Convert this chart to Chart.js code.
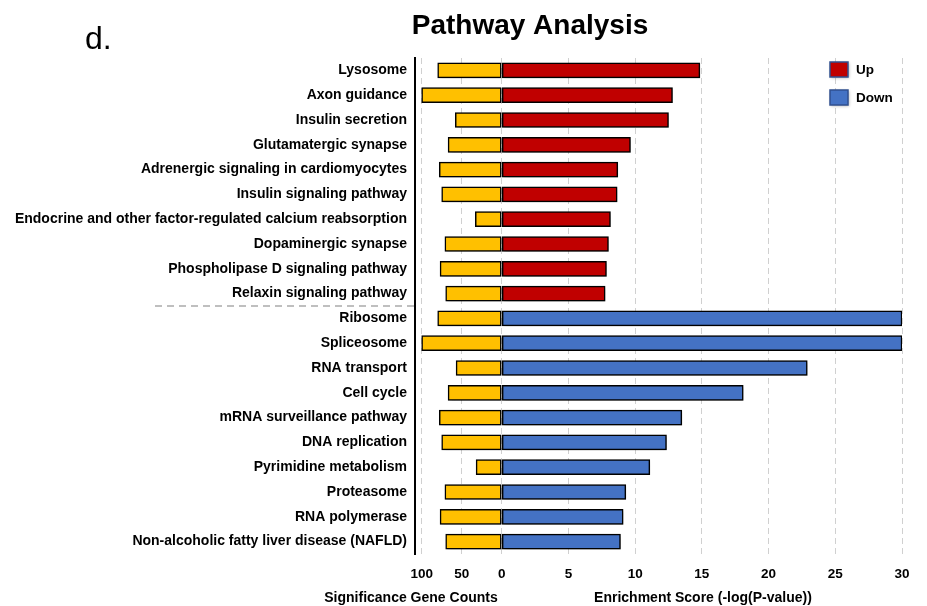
<!DOCTYPE html>
<html>
<head>
<meta charset="utf-8">
<script src="https://cdn.jsdelivr.net/npm/chart.js@4.4.1/dist/chart.umd.min.js"></script>
<style>
  body { margin: 0; background: #fff; }
</style>
</head>
<body>
<canvas id="myChart" width="927" height="606"></canvas>
<script>

var categories = [
    'Lysosome', 'Axon guidance', 'Insulin secretion', 'Glutamatergic synapse',
    'Adrenergic signaling in cardiomyocytes', 'Insulin signaling pathway',
    'Endocrine and other factor-regulated calcium reabsorption', 'Dopaminergic synapse',
    'Phospholipase D signaling pathway', 'Relaxin signaling pathway',
    'Ribosome', 'Spliceosome', 'RNA transport', 'Cell cycle', 'mRNA surveillance pathway',
    'DNA replication', 'Pyrimidine metabolism', 'Proteasome', 'RNA polymerase',
    'Non-alcoholic fatty liver disease (NAFLD)'
];

// significance gene counts (left side)
var geneCounts = [80, 100, 58, 67, 78, 75, 33, 71, 77, 70,
                  80, 100, 57, 67, 78, 75, 32, 71, 77, 70];

// enrichment scores, -log(P-value)
var upScores = [14.85, 12.8, 12.5, 9.65, 8.7, 8.65, 8.15, 8.0, 7.85, 7.75];
var downScores = [30, 30, 22.9, 18.1, 13.5, 12.35, 11.1, 9.3, 9.1, 8.9];

var countTicks = [100, 50, 0];
var scoreTicks = [5, 10, 15, 20, 25, 30];

// counts share the x axis with scores: 100 genes ~ 6 score units
var COUNT_SCALE = 0.06;

var FONT = "'Liberation Sans', Arial, sans-serif";
Chart.defaults.font.family = FONT;

var empty = categories.slice(upScores.length).map(function () { return null; });
var upData = upScores.concat(empty);
var downData = categories.slice(0, upScores.length).map(function () { return null; }).concat(downScores);
var countData = geneCounts.map(function (c) { return -c * COUNT_SCALE; });

var tickValues = countTicks.map(function (c) { return -c * COUNT_SCALE; }).concat(scoreTicks);

var shadowPlugin = {
    id: 'barShadow',
    beforeDatasetsDraw: function (chart) {
        var ctx = chart.ctx;
        ctx.save();
        ctx.shadowColor = 'rgba(0,0,0,0.3)';
        ctx.shadowBlur = 4;
        ctx.shadowOffsetX = 2;
        ctx.shadowOffsetY = 2;
    },
    afterDatasetsDraw: function (chart) {
        chart.ctx.restore();
    }
};

var extrasPlugin = {
    id: 'extras',
    afterDraw: function (chart) {
        var ctx = chart.ctx;
        var area = chart.chartArea;
        var y = chart.scales.y;
        ctx.save();

        // title and panel letter
        ctx.fillStyle = '#000';
        ctx.textBaseline = 'alphabetic';
        ctx.textAlign = 'center';
        ctx.font = 'bold 28px ' + FONT;
        ctx.fillText('Pathway Analysis', 530, 34);
        ctx.textAlign = 'left';
        ctx.font = '32px ' + FONT;
        ctx.fillText('d.', 85, 49);

        // separator between up and down groups
        var sepY = (y.getPixelForValue(upScores.length - 1) + y.getPixelForValue(upScores.length)) / 2;
        ctx.strokeStyle = '#bfbfbf';
        ctx.lineWidth = 2;
        ctx.setLineDash([7, 5]);
        ctx.beginPath();
        ctx.moveTo(155, sepY);
        ctx.lineTo(area.left, sepY);
        ctx.stroke();
        ctx.setLineDash([]);

        // legend
        var items = [['Up', '#C00000', 69], ['Down', '#4472C4', 97]];
        items.forEach(function (it) {
            ctx.save();
            ctx.shadowColor = 'rgba(0,0,0,0.3)';
            ctx.shadowBlur = 3;
            ctx.shadowOffsetX = 1;
            ctx.shadowOffsetY = 1;
            ctx.fillStyle = it[1];
            ctx.fillRect(830, it[2] - 7, 18, 15);
            ctx.restore();
            ctx.strokeStyle = '#2f4f8f';
            ctx.lineWidth = 1.5;
            ctx.strokeRect(830, it[2] - 7, 18, 15);
            ctx.fillStyle = '#000';
            ctx.font = 'bold 13.5px ' + FONT;
            ctx.textAlign = 'left';
            ctx.textBaseline = 'middle';
            ctx.fillText(it[0], 856, it[2] + 1);
        });

        // axis titles
        ctx.font = 'bold 14px ' + FONT;
        ctx.textAlign = 'center';
        ctx.textBaseline = 'middle';
        ctx.fillText('Significance Gene Counts', 411, 598);
        ctx.fillText('Enrichment Score (-log(P-value))', 703, 598);
        ctx.restore();
    }
};

var chartId = document.getElementById('myChart').getContext('2d');

var myChart = new Chart(chartId, {
    type: 'bar',
    data: {
        labels: categories,
        datasets: [{
            label: 'Gene counts',
            data: countData,
            backgroundColor: '#FFC000',
            borderColor: '#000',
            borderWidth: 1.5,
            borderSkipped: false,
            barThickness: 15
        }, {
            label: 'Up',
            data: upData,
            backgroundColor: '#C00000',
            borderColor: '#000',
            borderWidth: 1.5,
            borderSkipped: false,
            barThickness: 15
        }, {
            label: 'Down',
            data: downData,
            backgroundColor: '#4472C4',
            borderColor: '#000',
            borderWidth: 1.5,
            borderSkipped: false,
            barThickness: 15
        }]
    },
    options: {
        indexAxis: 'y',
        responsive: false,
        animation: false,
        layout: {
            padding: { top: 58, right: 25, left: 0, bottom: 0 }
        },
        plugins: {
            legend: { display: false },
            tooltip: { enabled: false }
        },
        scales: {
            x: {
                stacked: true,
                min: -6.5,
                max: 30,
                afterBuildTicks: function (scale) {
                    scale.ticks = tickValues.map(function (v) { return { value: v }; });
                },
                afterFit: function (scale) {
                    scale.height = 52;
                },
                ticks: {
                    padding: 12,
                    color: '#000',
                    font: { size: 13.5, weight: 'bold' },
                    callback: function (v) {
                        if (v < 0) {
                            return Math.round(-v / COUNT_SCALE);
                        }
                        return v;
                    }
                },
                grid: {
                    drawTicks: false,
                    color: '#d0d0d0',
                    lineWidth: 1
                },
                border: { display: false, dash: [6, 4] }
            },
            y: {
                stacked: true,
                afterFit: function (scale) {
                    scale.width = 415;
                },
                ticks: {
                    padding: 8,
                    color: '#000',
                    font: { size: 14, weight: 'bold' }
                },
                grid: { display: false, drawTicks: false },
                border: { display: true, color: '#000', width: 2 }
            }
        }
    },
    plugins: [shadowPlugin, extrasPlugin]

});
</script>
</body>
</html>
